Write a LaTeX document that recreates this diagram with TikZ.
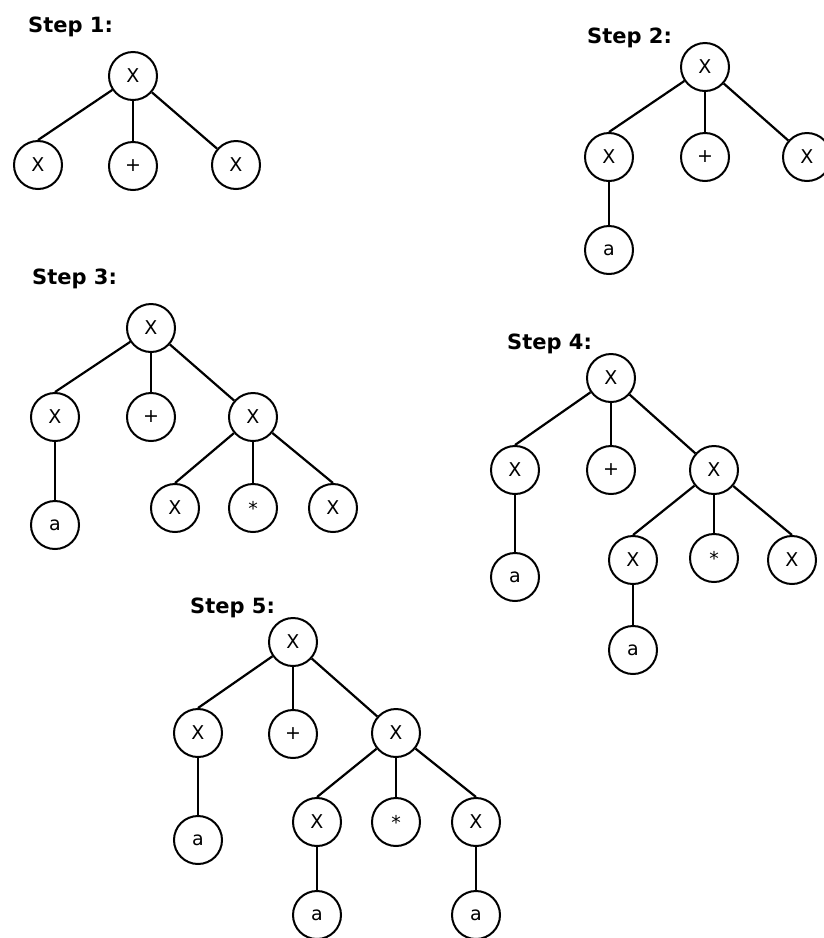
\documentclass[tikz,border=0pt]{standalone}
\usepackage{fontspec}
\setmainfont{DejaVu Sans}
\begin{document}
\begin{tikzpicture}[x=1pt,y=-1pt,
  nd/.style={circle,draw,line width=2pt,minimum size=48pt,inner sep=0pt,font=\fontsize{19}{19}\selectfont},
  lbl/.style={anchor=base west,font=\bfseries\fontsize{21}{21}\selectfont,inner sep=0pt},
  ed/.style={line width=2.2pt}]
\fill[white] (0,0) rectangle (824,938);
\clip (0,0) rectangle (824,938);
\useasboundingbox (0,0) rectangle (824,938);
% Step 1
\node[lbl] (s1) at (28,32) {Step 1:};
\node[nd] (a1r) at (133,76) {X};
\node[nd] (a1l) at (38,165) {X};
\node[nd] (a1p) at (133,166) {+};
\node[nd] (a1x) at (236,165) {X};
\draw[ed] (a1r) -- (a1l.north);
\draw[ed] (a1r) -- (a1p);
\draw[ed] (a1r) -- (a1x);
% Step 2
\node[lbl] (s2) at (587,43) {Step 2:};
\node[nd] (b2r) at (705,67) {X};
\node[nd] (b2l) at (609,157) {X};
\node[nd] (b2p) at (705,157) {+};
\node[nd] (b2x) at (807,157) {X};
\node[nd] (b2a) at (609,250) {a};
\draw[ed] (b2r) -- (b2l.north);
\draw[ed] (b2r) -- (b2p);
\draw[ed] (b2r) -- (b2x);
\draw[ed] (b2l) -- (b2a);
% Step 3
\node[lbl] (s3) at (32,284) {Step 3:};
\node[nd] (c3r) at (151,328) {X};
\node[nd] (c3l) at (55,417) {X};
\node[nd] (c3p) at (151,417) {+};
\node[nd] (c3x) at (253,417) {X};
\node[nd] (c3a) at (55,525) {a};
\node[nd] (c3xl) at (175,508) {X};
\node[nd] (c3s) at (253,508) {*};
\node[nd] (c3xr) at (333,508) {X};
\draw[ed] (c3r) -- (c3l.north);
\draw[ed] (c3r) -- (c3p);
\draw[ed] (c3r) -- (c3x);
\draw[ed] (c3l) -- (c3a);
\draw[ed] (c3x) -- (c3xl.north);
\draw[ed] (c3x) -- (c3s);
\draw[ed] (c3x) -- (c3xr.north);
% Step 4
\node[lbl] (s4) at (507,349) {Step 4:};
\node[nd] (d4r) at (611,378) {X};
\node[nd] (d4l) at (515,470) {X};
\node[nd] (d4p) at (611,470) {+};
\node[nd] (d4x) at (714,470) {X};
\node[nd] (d4a) at (515,577) {a};
\node[nd] (d4xl) at (633,560) {X};
\node[nd] (d4s) at (714,558) {*};
\node[nd] (d4xr) at (792,560) {X};
\node[nd] (d4a2) at (633,650) {a};
\draw[ed] (d4r) -- (d4l.north);
\draw[ed] (d4r) -- (d4p);
\draw[ed] (d4r) -- (d4x);
\draw[ed] (d4l) -- (d4a);
\draw[ed] (d4x) -- (d4xl.north);
\draw[ed] (d4x) -- (d4s);
\draw[ed] (d4x) -- (d4xr.north);
\draw[ed] (d4xl) -- (d4a2);
% Step 5
\node[lbl] (s5) at (190,613) {Step 5:};
\node[nd] (e5r) at (293,642) {X};
\node[nd] (e5l) at (198,733) {X};
\node[nd] (e5p) at (293,734) {+};
\node[nd] (e5x) at (396,733) {X};
\node[nd] (e5a) at (198,840) {a};
\node[nd] (e5xl) at (317,822) {X};
\node[nd] (e5s) at (396,822) {*};
\node[nd] (e5xr) at (476,822) {X};
\node[nd] (e5a2) at (317,915) {a};
\node[nd] (e5a3) at (476,915) {a};
\draw[ed] (e5r) -- (e5l.north);
\draw[ed] (e5r) -- (e5p);
\draw[ed] (e5r) -- (e5x);
\draw[ed] (e5l) -- (e5a);
\draw[ed] (e5x) -- (e5xl.north);
\draw[ed] (e5x) -- (e5s);
\draw[ed] (e5x) -- (e5xr.north);
\draw[ed] (e5xl) -- (e5a2);
\draw[ed] (e5xr) -- (e5a3);
\end{tikzpicture}
\end{document}
